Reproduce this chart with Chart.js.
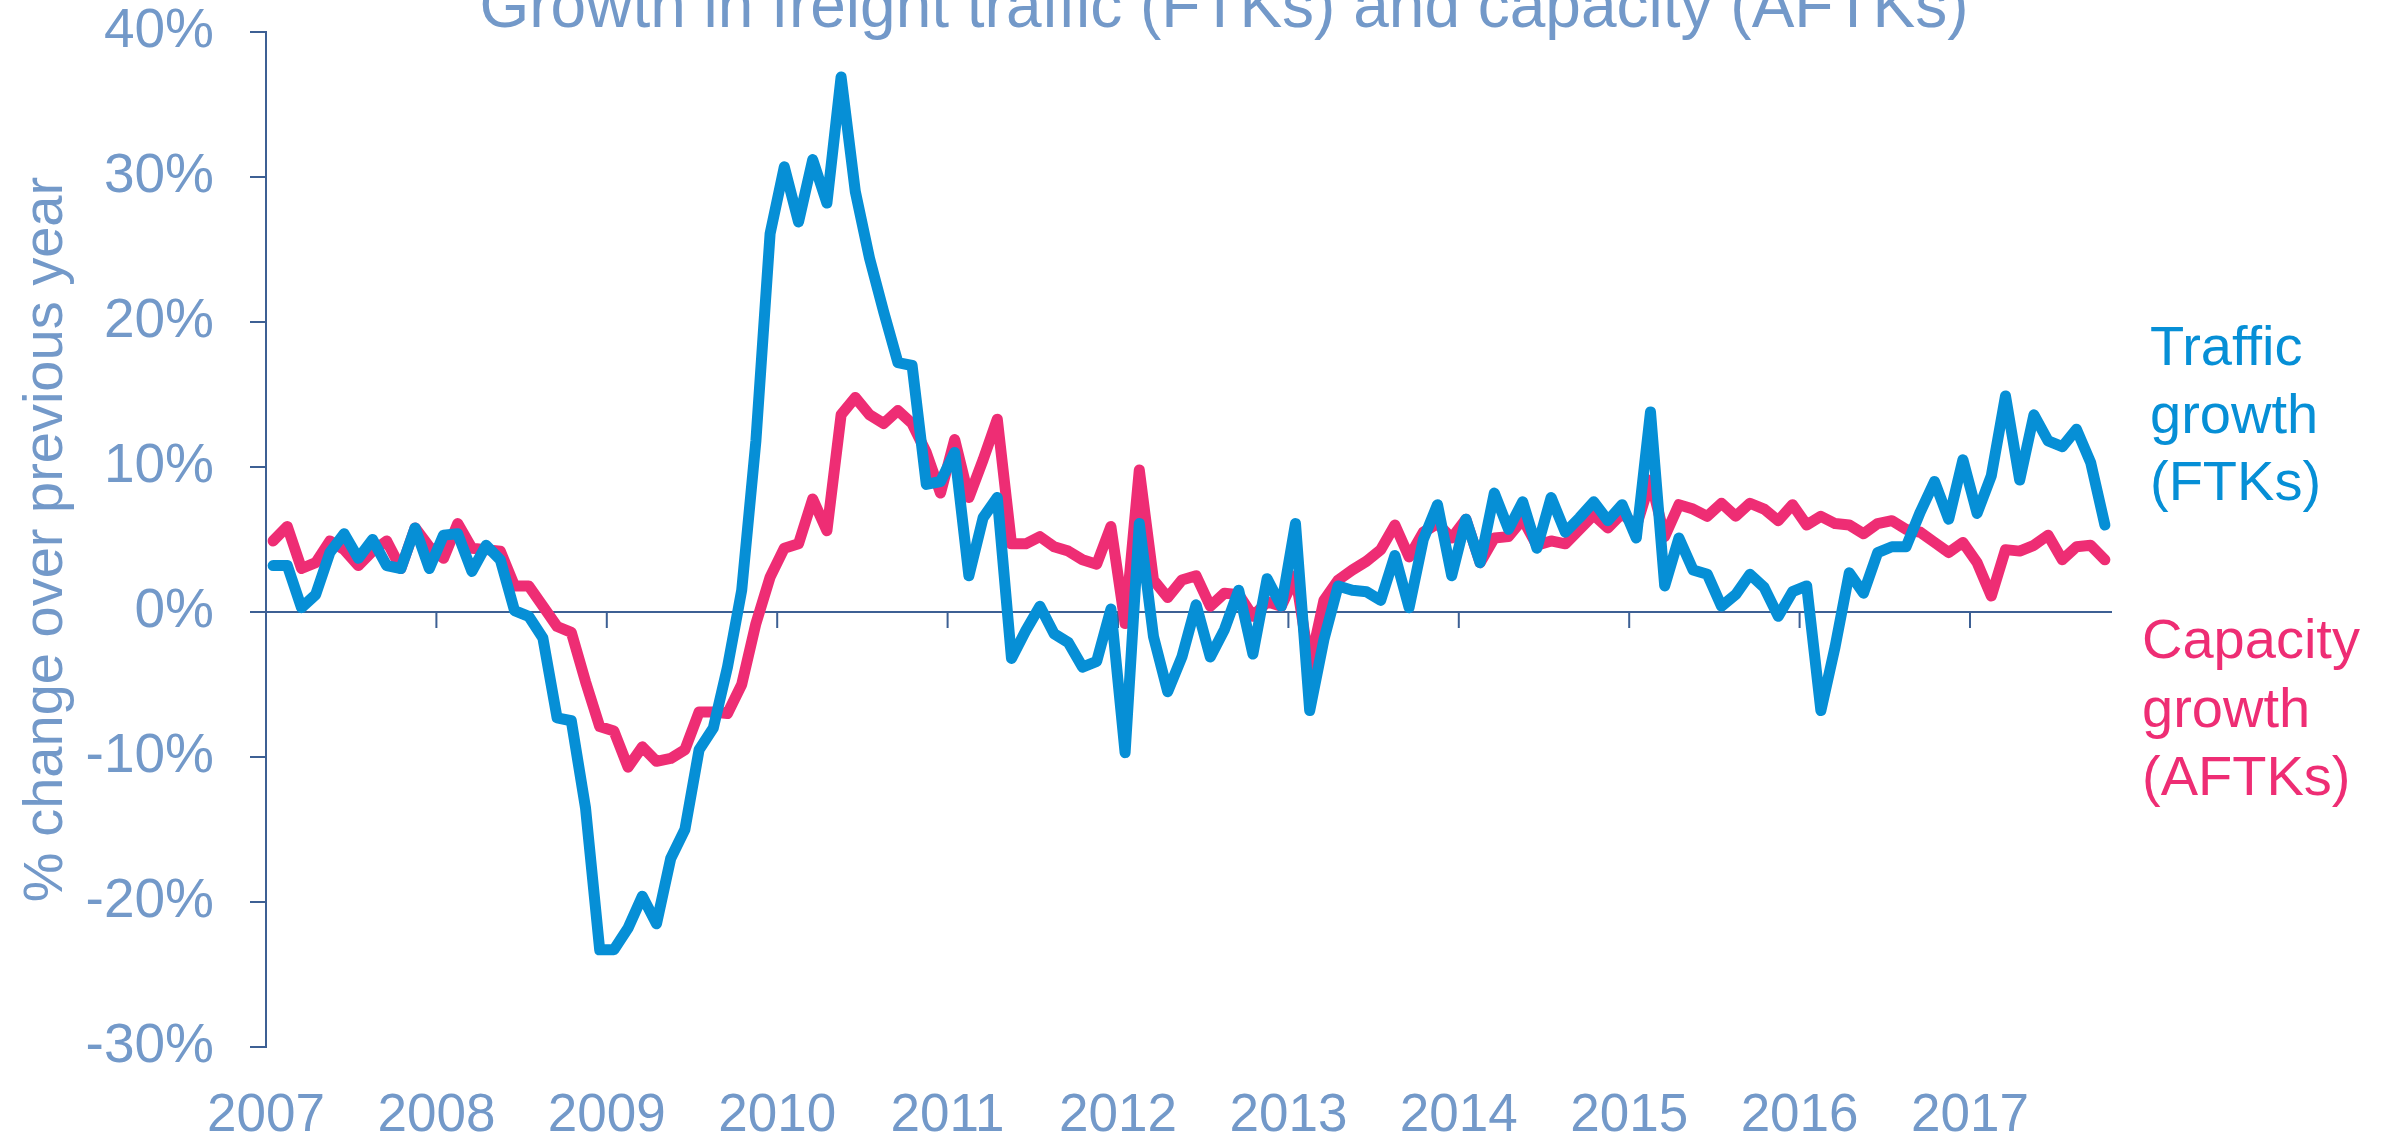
<!DOCTYPE html>
<html>
<head>
<meta charset="utf-8">
<title>Growth in freight traffic (FTKs) and capacity (AFTKs)</title>
<script src="https://cdn.jsdelivr.net/npm/chart.js@4.4.0/dist/chart.umd.min.js"></script>
<style>
  html, body { margin: 0; padding: 0; background: #fff; }
  #wrap { width: 2387px; height: 1138px; }
</style>
</head>
<body>
<div id="wrap"><canvas id="freightChart" width="2387" height="1138"></canvas></div>
<script>
// x axis: one point per month, Jan 2007 .. Oct 2017
const yearLabels = ['2007', '2008', '2009', '2010', '2011', '2012', '2013', '2014', '2015', '2016', '2017'];
const monthCount = 130;
const yTicks = [-30, -20, -10, 0, 10, 20, 30, 40];

// % change over previous year
const trafficGrowth = [
  3.2, 3.2, 0.3, 1.2, 4.1, 5.4, 3.7, 5.0, 3.2, 3.0, 5.8, 3.0,        // 2007
  5.3, 5.4, 2.8, 4.6, 3.6, 0.1, -0.3, -1.8, -7.3, -7.5, -13.5, -23.3, // 2008
  -23.3, -21.8, -19.6, -21.5, -17.0, -15.0, -9.5, -8.0, -3.8, 1.5, 11.8, 26.1, // 2009
  30.7, 26.9, 31.2, 28.2, 36.9, 29.0, 24.4, 20.7, 17.2, 17.0, 8.8, 9.0, // 2010
  11.0, 2.5, 6.5, 7.9, -3.2, -1.3, 0.4, -1.5, -2.1, -3.8, -3.4, 0.2,   // 2011
  -9.7, 6.1, -1.7, -5.5, -3.1, 0.5, -3.1, -1.2, 1.5, -2.9, 2.3, 0.4,   // 2012
  6.1, -6.8, -1.9, 1.8, 1.5, 1.4, 0.8, 3.9, 0.3, 5.0, 7.4, 2.5,        // 2013
  6.4, 3.4, 8.2, 5.7, 7.6, 4.4, 7.9, 5.5, 6.5, 7.6, 6.3, 7.4,          // 2014
  5.1, 13.8, 1.8, 5.1, 2.9, 2.6, 0.4, 1.2, 2.6, 1.7, -0.3, 1.4,        // 2015
  1.8, -6.8, -2.4, 2.7, 1.3, 4.1, 4.5, 4.5, 6.9, 9.0, 6.4, 10.5,       // 2016
  6.8, 9.4, 14.9, 9.1, 13.6, 11.8, 11.4, 12.6, 10.3, 6.0               // 2017
];
const capacityGrowth = [
  4.9, 5.9, 3.0, 3.4, 4.9, 4.3, 3.2, 4.2, 4.9, 3.0, 5.8, 4.5,          // 2007
  3.7, 6.1, 4.4, 4.3, 4.2, 1.8, 1.8, 0.4, -1.0, -1.4, -4.8, -7.9,      // 2008
  -8.2, -10.7, -9.3, -10.3, -10.1, -9.5, -6.9, -6.9, -7.0, -5.0, -0.8, 2.4, // 2009
  4.4, 4.7, 7.8, 5.6, 13.6, 14.8, 13.6, 13.0, 13.9, 13.0, 11.0, 8.2,   // 2010
  11.9, 7.9, 10.5, 13.3, 4.7, 4.7, 5.2, 4.5, 4.2, 3.6, 3.3, 5.9,       // 2011
  -0.8, 9.8, 2.2, 1.0, 2.2, 2.5, 0.4, 1.3, 1.2, -0.3, 0.7, 0.4,        // 2012
  2.5, -3.7, 0.8, 2.2, 2.9, 3.5, 4.3, 6.0, 3.8, 5.5, 6.1, 5.1,         // 2013
  6.4, 3.4, 5.1, 5.2, 6.4, 4.6, 4.9, 4.7, 5.7, 6.7, 5.8, 6.8,          // 2014
  5.9, 9.1, 5.2, 7.4, 7.1, 6.6, 7.5, 6.6, 7.5, 7.1, 6.3, 7.4,          // 2015
  6.0, 6.6, 6.1, 6.0, 5.4, 6.1, 6.3, 5.7, 5.5, 4.8, 4.1, 4.8,          // 2016
  3.4, 1.1, 4.3, 4.2, 4.6, 5.3, 3.6, 4.5, 4.6, 3.6                     // 2017
];

const trafficLabel = ['Traffic', 'growth', '(FTKs)'];
const capacityLabel = ['Capacity', 'growth', '(AFTKs)'];
const chartTitle = 'Growth in freight traffic (FTKs) and capacity (AFTKs)';

const fontFamily = '"Liberation Sans", Arial, sans-serif';
const axisColor = '#3d6094';
const textColor = '#7399c9';
const trafficColor = '#068fd6';
const capacityColor = '#ee2d74';

// points sit in the middle of each month slot
function toPoints(values) {
  return values.map((v, i) => ({ x: i + 0.5, y: v }));
}

// horizontal 0% line with the year tick marks hanging under it
const zeroLinePlugin = {
  id: 'zeroLine',
  beforeDatasetsDraw(chart) {
    const { ctx, chartArea, scales } = chart;
    const y0 = scales.y.getPixelForValue(0);
    ctx.save();
    ctx.strokeStyle = axisColor;
    ctx.lineWidth = 2;
    ctx.beginPath();
    ctx.moveTo(chartArea.left, y0);
    ctx.lineTo(chartArea.right, y0);
    yearLabels.forEach((yr, k) => {
      if (k === 0) return;
      const x = scales.x.getPixelForValue(k * 12);
      ctx.moveTo(x, y0);
      ctx.lineTo(x, y0 + 16);
    });
    ctx.stroke();
    ctx.restore();
  }
};

// title (partly cut off at the top) and the series names on the right
const textPlugin = {
  id: 'sideText',
  afterDraw(chart) {
    const { ctx, chartArea } = chart;
    ctx.save();
    ctx.textBaseline = 'alphabetic';
    ctx.textAlign = 'center';
    ctx.fillStyle = textColor;
    ctx.font = '64px ' + fontFamily;
    ctx.fillText(chartTitle, 1224, 27);

    ctx.textAlign = 'left';
    ctx.font = '56px ' + fontFamily;
    ctx.fillStyle = trafficColor;
    trafficLabel.forEach((t, k) => {
      ctx.fillText(t, chartArea.right + 38, 365 + k * 67.5);
    });
    ctx.fillStyle = capacityColor;
    capacityLabel.forEach((t, k) => {
      ctx.fillText(t, chartArea.right + 30, 658 + k * 68.5);
    });
    ctx.restore();
  }
};

const ctx = document.getElementById('freightChart').getContext('2d');

const freightChart = new Chart(ctx, {
  type: 'line',
  data: {
    datasets: [{
      label: 'Traffic growth (FTKs)',
      data: toPoints(trafficGrowth),
      borderColor: trafficColor,
      borderWidth: 11,
      pointRadius: 0,
      borderJoinStyle: 'round',
      borderCapStyle: 'round',
      tension: 0,
      fill: false
    }, {
      label: 'Capacity growth (AFTKs)',
      data: toPoints(capacityGrowth),
      borderColor: capacityColor,
      borderWidth: 11,
      pointRadius: 0,
      borderJoinStyle: 'round',
      borderCapStyle: 'round',
      tension: 0,
      fill: false
    }]
  },
  options: {
    responsive: false,
    animation: false,
    devicePixelRatio: 1,
    layout: {
      padding: { top: 32, right: 275, left: 0, bottom: 0 }
    },
    plugins: {
      legend: { display: false },
      tooltip: { enabled: false }
    },
    scales: {
      x: {
        type: 'linear',
        min: 0,
        max: monthCount,
        afterBuildTicks: (scale) => {
          scale.ticks = yearLabels.map((yr, k) => ({ value: k * 12 }));
        },
        afterFit: (scale) => {
          scale.height = 91;
          scale.paddingLeft = 0;
          scale.paddingRight = 0;
        },
        grid: { display: false, drawTicks: false },
        border: { display: false },
        ticks: {
          color: textColor,
          font: { family: fontFamily, size: 53 },
          padding: 38,
          maxRotation: 0,
          autoSkip: false,
          callback: (value, index) => yearLabels[index]
        }
      },
      y: {
        min: -30,
        max: 40,
        afterBuildTicks: (scale) => {
          scale.ticks = yTicks.map(v => ({ value: v }));
        },
        afterFit: (scale) => {
          scale.width = 266;
          scale.paddingTop = 0;
          scale.paddingBottom = 0;
        },
        border: { display: true, color: axisColor, width: 2 },
        grid: {
          drawOnChartArea: false,
          drawTicks: true,
          tickLength: 16,
          color: axisColor,
          lineWidth: 2
        },
        ticks: {
          color: textColor,
          font: { family: fontFamily, size: 55, lineHeight: 1 },
          padding: 36,
          callback: (value) => value + '%'
        },
        title: {
          display: true,
          text: '% change over previous year',
          color: textColor,
          font: { family: fontFamily, size: 56 },
          padding: { top: 13, bottom: 0 }
        }
      }
    }
  },
  plugins: [zeroLinePlugin, textPlugin]
});
</script>
</body>
</html>
